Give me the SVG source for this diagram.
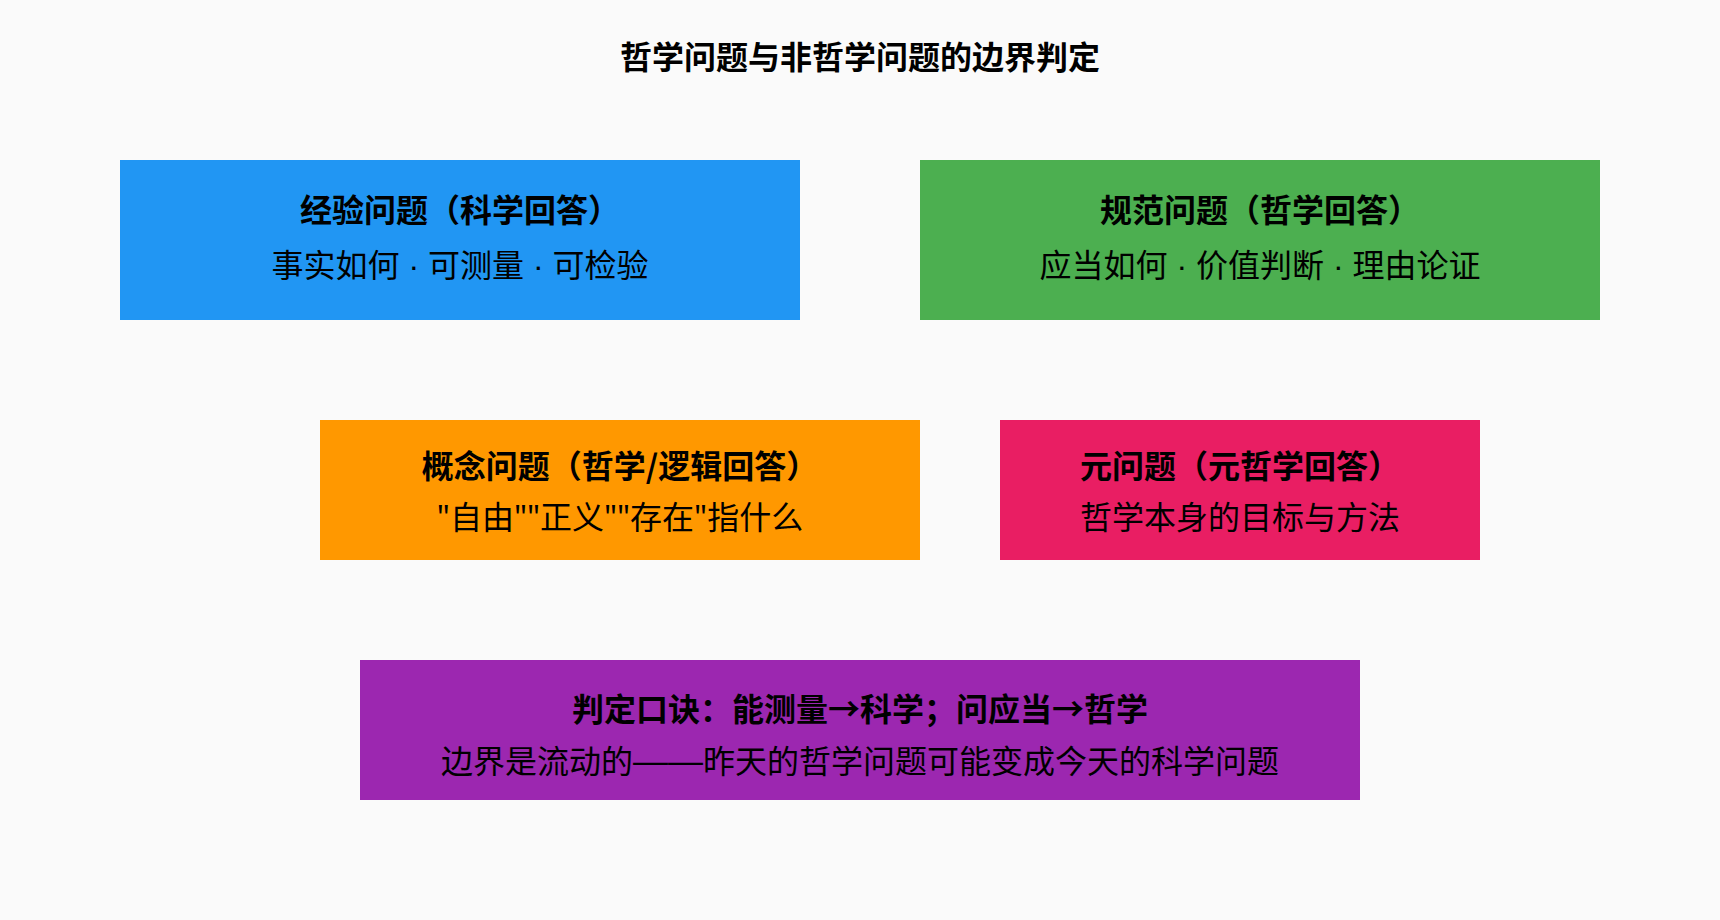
<svg xmlns="http://www.w3.org/2000/svg" width="1720" height="920" viewBox="0 0 1720 920">
  <style>
    text { font-family: "Noto Sans CJK SC", "Noto Sans", sans-serif; fill: #000000; text-anchor: middle; }
    .title { font-size: 32px; font-weight: 700; }
    .head { font-size: 32px; font-weight: 700; }
    .sub { font-family: "Noto Sans", "Noto Sans CJK SC", sans-serif; font-size: 32px; font-weight: 400; }
    .sep { font-family: "Liberation Sans", "Noto Sans CJK SC", sans-serif; }
    .dash { font-family: "Liberation Sans", "Noto Sans CJK SC", sans-serif; font-size: 35px; }
  </style>
  <rect x="0" y="0" width="1720" height="920" fill="#FAFAFA"/>
  <text id="title" class="title" x="860" y="69">哲学问题与非哲学问题的边界判定</text>
  <g id="connectors"></g>
  <g id="node-empirical">
    <rect x="120" y="160" width="680" height="160" fill="#2196F3"/>
    <text class="head" x="460" y="221.5">经验问题（科学回答）</text>
    <text class="sub sep" x="460" y="277">事实如何 · 可测量 · 可检验</text>
  </g>
  <g id="node-normative">
    <rect x="920" y="160" width="680" height="160" fill="#4CAF50"/>
    <text class="head" x="1260" y="221.5">规范问题（哲学回答）</text>
    <text class="sub sep" x="1260" y="277">应当如何 · 价值判断 · 理由论证</text>
  </g>
  <g id="node-conceptual">
    <rect x="320" y="420" width="600" height="140" fill="#FF9800"/>
    <text class="head" x="620" y="477.5">概念问题（哲学/逻辑回答）</text>
    <text class="sub" x="620" y="529">"自由""正义""存在"指什么</text>
  </g>
  <g id="node-meta">
    <rect x="1000" y="420" width="480" height="140" fill="#E91E63"/>
    <text class="head" x="1240" y="477.5">元问题（元哲学回答）</text>
    <text class="sub" x="1240" y="529">哲学本身的目标与方法</text>
  </g>
  <g id="node-rule">
    <rect x="360" y="660" width="1000" height="140" fill="#9C27B0"/>
    <text class="head" x="860" y="721">判定口诀：能测量→科学；问应当→哲学</text>
    <text class="sub" x="860" y="773">边界是流动的<tspan class="dash">——</tspan>昨天的哲学问题可能变成今天的科学问题</text>
  </g>
</svg>
